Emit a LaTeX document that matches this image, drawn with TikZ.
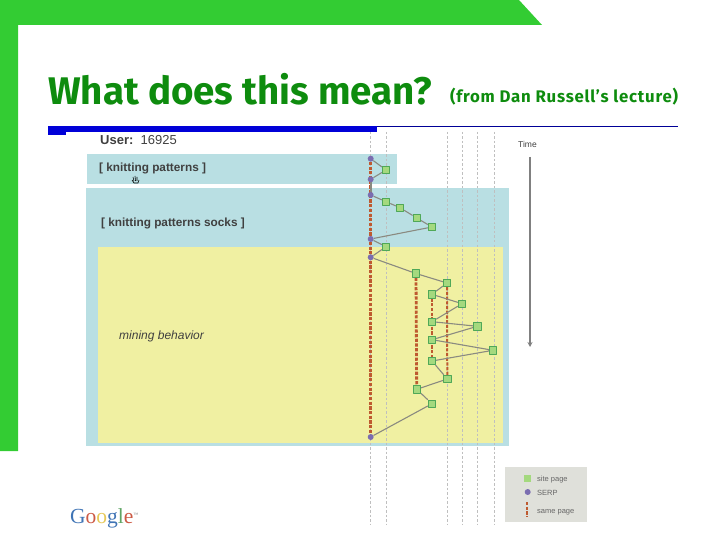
\documentclass[tikz,border=0pt]{standalone}
\usepackage{fontspec}
\setmainfont{Liberation Sans}
\newfontfamily\titlefont{Fira Sans}
\newfontfamily\sourcefont[LetterSpace=4.5]{Fira Sans}
\newfontfamily\logofont{Liberation Serif}
\usetikzlibrary{backgrounds,arrows.meta}
\definecolor{framegreen}{HTML}{33CC33}
\definecolor{titlegreen}{HTML}{0E8C0E}
\definecolor{rulecolor}{HTML}{0000D8}
\definecolor{panelblue}{HTML}{B9DFE3}
\definecolor{panelyellow}{HTML}{F0F0A2}
\definecolor{sitefill}{HTML}{A4D97E}
\definecolor{siteline}{HTML}{4FA858}
\definecolor{serpfill}{HTML}{7A6DB0}
\definecolor{samered}{HTML}{BE5A30}
\definecolor{edgegray}{HTML}{8A8A80}
\definecolor{legendgray}{HTML}{DFE0DA}
\definecolor{logoblue}{HTML}{3F74B5}
\definecolor{logored}{HTML}{CC5A45}
\definecolor{logoyellow}{HTML}{E6C95A}
\definecolor{logogreen}{HTML}{5FA565}
\tikzset{
	sitepage/.style={draw=siteline, fill=sitefill, line width=.9pt, minimum size=7.4pt, inner sep=0pt},
	serp/.style={circle, fill=serpfill, minimum size=6pt, inner sep=0pt},
	visit/.style={draw=edgegray, line width=1.1pt},
	samepage/.style={draw=samered, line width=2.8pt, dash pattern=on 3.2pt off 1.5pt},
	samepagethin/.style={draw=samered, line width=2pt, dash pattern=on 3.2pt off 1.5pt},
	timeline/.style={draw=gray!50, line width=.6pt, dash pattern=on 2.5pt off 2pt},
	label/.style={inner sep=0pt, anchor=base west, text=black!75},
}
\begin{document}
\begin{tikzpicture}[x=1pt, y=-1pt, line join=round, >=stealth]
	\useasboundingbox (0,0) rectangle (720,540);
	% slide frame
	\fill[framegreen] (0,0)--(519,0)--(542,25)--(18,25)--(18,451)--(0,451)--cycle;
	\node[label, text=titlegreen, font=\titlefont\bfseries\fontsize{38.5}{38.5}\selectfont] (title) at (48,105) {What does this mean?};
	\node[label, text=titlegreen, font=\sourcefont\bfseries\fontsize{16.8}{16.8}\selectfont] (source) at (450,103) {(from Dan Russell’s lecture)};
	\fill[rulecolor] (48,126) rectangle (377,132);
	\fill[rulecolor] (48,132) rectangle (66,135);
	\draw[rulecolor!70!black, line width=.8pt] (377,126.6)--(678,126.6);
	% page visits
	\foreach \name/\x/\y in {s1/370.7/158.7, s2/370.7/179.3, s3/370.7/195, s4/370.7/239, s5/370.7/257.3, s6/370.7/437}
		\node[serp] (\name) at (\x,\y) {};
	\foreach \name/\x/\y in {a/386/170, b1/386/201.7, b2/400/207.7, b3/416.7/218, b4/432/227, c/386/246.7,
		d/416/273.5, e/447/283, f/432/294.3, g/462/303.7, h/432/321.7, i/477.3/326.3, j/432/339.7,
		k/493/350.3, l/432/361, m/447.3/379, n/416.7/389.3, o/432/403.7}
		\node[sitepage] (\name) at (\x,\y) {};
	\node[label, font=\fontsize{13}{13}\selectfont] (user) at (100,145) {\textbf{User:}\ \ 16925};
	\node[label, font=\bfseries\fontsize{11.8}{11.8}\selectfont] (queryone) at (99,172) {[ knitting patterns ]};
	\node[label, font=\bfseries\fontsize{11.8}{11.8}\selectfont] (querytwo) at (101,226) {[ knitting patterns socks ]};
	\node[label, font=\itshape\fontsize{12}{12}\selectfont] (mining) at (119,339) {mining behavior};
	\node[label, font=\fontsize{8.5}{8.5}\selectfont] (timelabel) at (518,148) {Time};
	\coordinate (timestart) at (530,157);
	\coordinate (timeend) at (530,347);
	\draw[-{Stealth[length=5pt,width=5pt]}, draw=gray, line width=1.3pt] (timestart)--(timeend);
	% cursor
	\draw[black, line width=.6pt] (132,180)--(134,183)--(138,183)--(139,180) (133,177)--(134,181) (135,176)--(135.5,181) (137,177)--(137,181);
	% legend and logo
	\node[label, text=black!60, font=\fontsize{7.5}{7.5}\selectfont] (legsite) at (537,481) {site page};
	\node[label, text=black!60, font=\fontsize{7.5}{7.5}\selectfont] (legserp) at (537,495) {SERP};
	\node[label, text=black!60, font=\fontsize{7.5}{7.5}\selectfont] (legsame) at (537,513) {same page};
	\node[sitepage, draw=none, minimum size=7pt] (keysite) at (527,478) {};
	\node[serp] (keyserp) at (527.7,492) {};
	\coordinate (keytop) at (527,502);
	\coordinate (keybot) at (527,517);
	\draw[samepagethin] (keytop)--(keybot);
	\node[label, font=\logofont\fontsize{21.5}{21.5}\selectfont] (logo) at (70,523) {\textcolor{logoblue}{G}\textcolor{logored}{o}\textcolor{logoyellow}{o}\textcolor{logoblue}{g}\textcolor{logogreen}{l}\textcolor{logored}{e}\textcolor{gray}{\fontsize{5}{5}\selectfont\raisebox{7pt}{™}}};
	\begin{scope}[on background layer]
		\fill[panelblue] (87,154) rectangle (397,184);
		\fill[panelblue] (86,188) rectangle (509,446);
		\fill[panelyellow] (98,247) rectangle (503,443);
		\fill[legendgray] (505,467) rectangle (587,522);
		\foreach \x in {370.7,386.3,447.3,462.3,477.3,494.3}
			\draw[timeline] (\x,132)--(\x,525);
		\draw[samepage] (s1)--(s6);
		\draw[samepage] (d)--(n);
		\draw[samepagethin] (f)--(l);
		\draw[samepagethin] (e)--(m);
		\draw[visit] (s1)--(a)--(s2);
		\draw[visit, line width=1.8pt] (s2)--(s3);
		\draw[visit] (s3)--(b1)--(b2)--(b3)--(b4)--(s4)--(c)--(s5)--(d)--(e)--(f)--(g)--(h)--(i)--(j)--(k)--(l)--(m)--(n)--(o)--(s6);
	\end{scope}
\end{tikzpicture}
\end{document}
